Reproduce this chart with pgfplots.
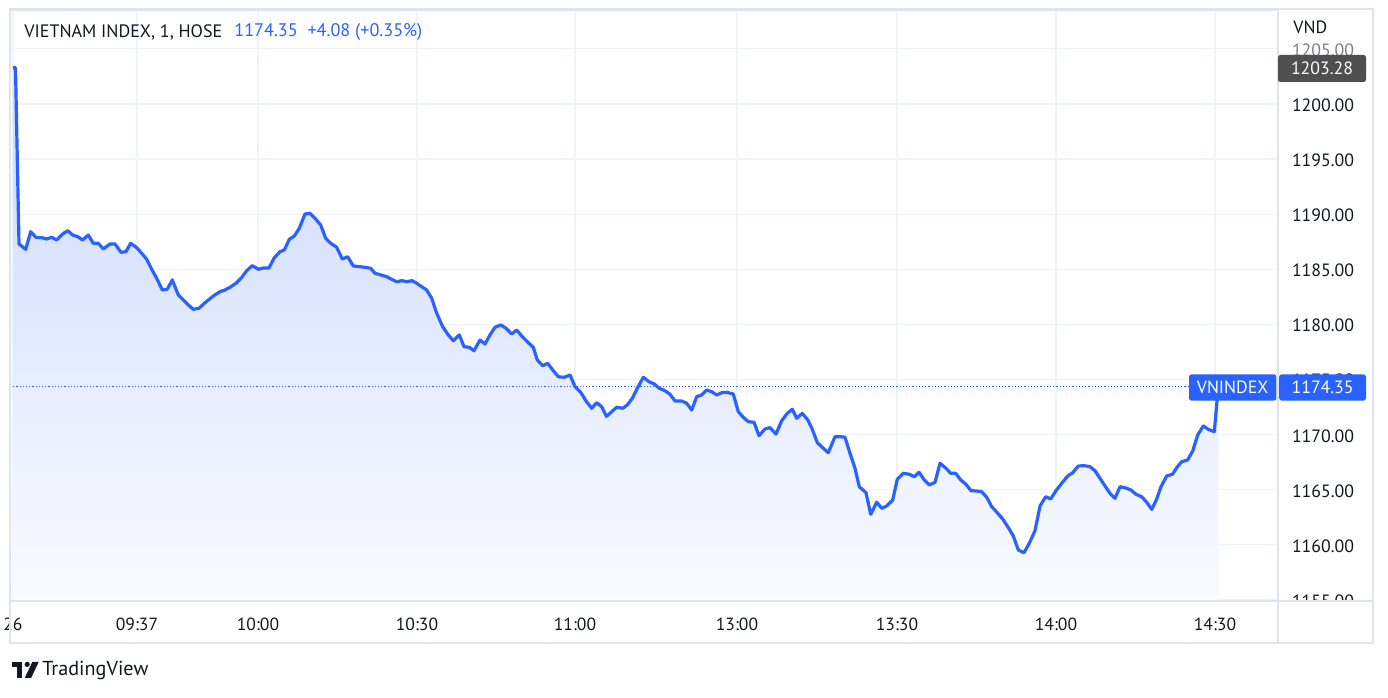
\documentclass[border=0pt]{standalone}
\usepackage{pgfplots}
\pgfplotsset{compat=1.18}
\usepackage{pgfplotstable}
\usepackage{fontspec}
\setmainfont{PT Sans}
\definecolor{tvblue}{HTML}{2962FF}
\definecolor{gridc}{HTML}{F0F3FA}
\definecolor{framec}{HTML}{E0E3EB}
\definecolor{txt}{HTML}{131722}
\definecolor{tagdark}{HTML}{4F4F4F}
\definecolor{filltop}{RGB}{204,217,254}
\definecolor{fillbot}{RGB}{250,251,255}

% x = horizontal position of each 1-minute bar (chart pixel units), y = index value
\pgfplotstableread{
x y
13 1203.28
15.5 1203.28
19 1187.30
25.7 1186.81
30.7 1188.41
36 1187.90
41.7 1187.87
46.7 1187.75
51.7 1187.90
56.7 1187.66
62.7 1188.20
67.7 1188.50
72.7 1188.11
77.7 1187.96
82.7 1187.66
88.3 1188.11
93.3 1187.36
98.3 1187.36
103.3 1186.84
110 1187.30
115 1187.30
121 1186.54
126 1186.60
130.7 1187.36
136.7 1186.96
141.7 1186.45
146.7 1185.91
151.7 1185.00
156.7 1184.18
162.3 1183.12
167.3 1183.19
172.3 1184.03
178.3 1182.67
183.3 1182.21
188.3 1181.76
193.3 1181.37
199 1181.46
204.3 1181.91
209.3 1182.28
213.3 1182.58
220 1182.97
225 1183.12
230 1183.37
236 1183.73
241.7 1184.27
246.7 1184.87
252.3 1185.33
258.3 1185.00
263.3 1185.12
269 1185.12
274 1186.00
280 1186.60
284.3 1186.75
289.3 1187.72
294.3 1188.02
299.3 1188.72
305 1190.02
310 1190.08
315 1189.63
320.7 1189.02
325.7 1187.81
330.7 1187.36
336.7 1187.00
342.3 1185.93
347.7 1186.14
353.3 1185.30
359.3 1185.24
365 1185.18
370.7 1185.09
375 1184.64
381 1184.48
386.7 1184.33
391.7 1184.09
396.7 1183.87
401.7 1183.97
407 1183.87
412 1183.97
416.7 1183.73
421.7 1183.42
426.7 1183.12
431.7 1182.37
436.7 1181.01
442.7 1179.79
448.3 1179.04
453.3 1178.52
459.3 1179.04
464 1177.98
469.3 1177.92
474 1177.61
480 1178.58
485 1178.22
490 1179.04
495 1179.74
501 1179.95
506 1179.65
511.7 1179.13
516.7 1179.49
521.7 1178.95
527.3 1178.43
533.3 1177.92
537.3 1176.77
542.7 1176.25
547.7 1176.47
552.7 1175.86
558.3 1175.25
564.3 1175.20
570 1175.41
575 1174.35
581 1173.80
586 1173.05
591.7 1172.39
596.7 1172.89
601.7 1172.53
606.5 1171.65
611.7 1172.08
616.7 1172.48
622.7 1172.39
627.3 1172.69
632.3 1173.29
637.3 1174.20
643.3 1175.20
649 1174.80
654.3 1174.59
659.3 1174.20
665 1173.98
670 1173.66
675 1173.05
681.7 1173.05
686.7 1172.84
691.7 1172.23
696.7 1173.44
701.7 1173.59
706.7 1174.05
711.7 1173.89
716.7 1173.59
721.7 1173.80
726.7 1173.84
733.3 1173.68
738.3 1172.08
743.3 1171.57
748.3 1171.17
754 1171.12
759 1169.90
765 1170.51
770 1170.63
776 1170.05
781.7 1171.26
787.3 1171.93
792.3 1172.30
796.7 1171.48
802.3 1171.93
808 1171.30
812.3 1170.48
817.3 1169.27
822.7 1168.81
828.3 1168.36
835 1169.81
840 1169.81
845 1169.76
850 1168.30
855 1166.94
859.3 1165.27
866 1164.73
870.7 1162.77
876.7 1163.86
881.7 1163.31
886.7 1163.52
892.7 1164.06
897.3 1165.94
903.3 1166.49
909.3 1166.40
914.3 1166.18
919 1166.58
924.3 1165.88
929.3 1165.43
935 1165.67
940 1167.40
946 1166.94
950.7 1166.49
955.7 1166.49
960.7 1165.88
965.7 1165.52
971 1164.91
976.7 1164.88
981.7 1164.82
986.7 1164.31
991.7 1163.46
997.3 1162.91
1003 1162.30
1008 1161.60
1013.3 1160.80
1018.3 1159.53
1024 1159.28
1029.3 1160.14
1035 1161.28
1040 1163.52
1045.7 1164.36
1050.7 1164.16
1056 1164.91
1061.7 1165.58
1067.7 1166.24
1072.7 1166.54
1078.3 1167.15
1084 1167.18
1090 1167.09
1095 1166.72
1100 1166.03
1105 1165.34
1110 1164.67
1115 1164.22
1120 1165.27
1126 1165.15
1131 1164.97
1136 1164.58
1141.7 1164.36
1146.7 1163.86
1151.7 1163.22
1156 1164.00
1161 1165.27
1166.7 1166.24
1172.7 1166.42
1176.7 1167.00
1181.7 1167.54
1187.7 1167.70
1192.7 1168.51
1197.7 1169.96
1203.3 1170.78
1208.3 1170.48
1214.3 1170.26
1218.3 1174.35
}\vnindex

\begin{document}
\begin{tikzpicture}[x=1pt,y=1pt]
\fill[white] (0,0) rectangle (694,348.5);
\path[use as bounding box] (0,0) rectangle (694,348.5);
\begin{axis}[
  at={(5pt,48pt)}, anchor=south west,
  width=634pt, height=295.5pt, scale only axis,
  xmin=10, xmax=1278, ymin=1154.90, ymax=1208.53,
  axis line style={draw=framec, line width=0.6pt},
  major tick length=0pt,
  grid=major, grid style={draw=gridc, line width=0.6pt},
  xtick={13,137,258,417,575,737,897,1056,1215},
  xticklabels={26,09:37,10:00,10:30,11:00,13:00,13:30,14:00,14:30},
  xticklabel style={anchor=center, yshift=-11.5pt, font=\fontsize{8.8}{10}\selectfont, text=txt},
  ytick={1155,1160,1165,1170,1175,1180,1185,1190,1195,1200,1205},
  yticklabel pos=right,
  yticklabel style={anchor=center, xshift=22.5pt, yshift=-0.6pt, font=\fontsize{8.9}{10}\selectfont, text=txt,
    /pgf/number format/.cd, fixed, fixed zerofill, precision=2, 1000 sep={}, assume math mode=true},
]
\addplot[draw=none, top color=filltop, bottom color=fillbot] table[x=x,y=y]{\vnindex} \closedcycle;
\addplot[tvblue, densely dotted, line width=0.6pt] coordinates {(10,1174.35) (1189,1174.35)};
\addplot[tvblue, line width=1.6pt, line join=round] table[x=x,y=y]{\vnindex};
\end{axis}
% cover lower part of the price scale (time-scale strip)
\fill[white] (639.4,27.2) rectangle (686.2,47.7);
% fade the partly hidden top price label
\fill[white, opacity=0.45] (641,316) rectangle (685,331);
% frame
\draw[framec, line width=0.6pt] (5,27) rectangle (686.5,344);
\draw[framec, line width=0.6pt] (639,27) -- (639,344);
\draw[framec, line width=0.6pt] (5,48) -- (686.5,48);
% header
\node[anchor=west, inner sep=0, text=txt, font=\fontsize{9}{10}\selectfont] at (12,332.5) {VIETNAM INDEX, 1, HOSE};
\node[anchor=west, inner sep=0, text=tvblue, font=\fontsize{9.1}{10}\selectfont] at (117,332.5) {1174.35\ \ +4.08 (+0.35\%)};
\node[anchor=west, inner sep=0, text=txt, font=\fontsize{8.9}{10}\selectfont] at (646.5,335) {VND};
% last-value tags
\fill[tagdark, rounded corners=1.2pt] (639,307.5) rectangle (683,321);
\node[text=white, inner sep=0, font=\fontsize{8.9}{10}\selectfont] at (661,314.25) {1203.28};
\fill[tvblue, rounded corners=1.2pt] (594.5,148.2) rectangle (638.2,161.3);
\node[text=white, inner sep=0, font=\fontsize{8.9}{10}\selectfont] at (616.3,154.75) {VNINDEX};
\fill[tvblue, rounded corners=1.2pt] (639.6,148.2) rectangle (683,161.3);
\node[text=white, inner sep=0, font=\fontsize{8.9}{10}\selectfont] at (661.3,154.75) {1174.35};
% TradingView logo
\fill[txt] (6,15.2) rectangle (11.2,17.6);
\fill[txt] (8.6,9.6) rectangle (11.2,17.6);
\fill[txt] (13.6,16.3) circle (1.3);
\fill[txt] (12.4,9.6) -- (15.6,9.6) -- (19.4,17.6) -- (16.2,17.6) -- cycle;
\node[anchor=west, inner sep=0, text=txt, font=\fontsize{10.1}{11}\selectfont] at (21,13.5) {TradingView};
\end{tikzpicture}
\end{document}
